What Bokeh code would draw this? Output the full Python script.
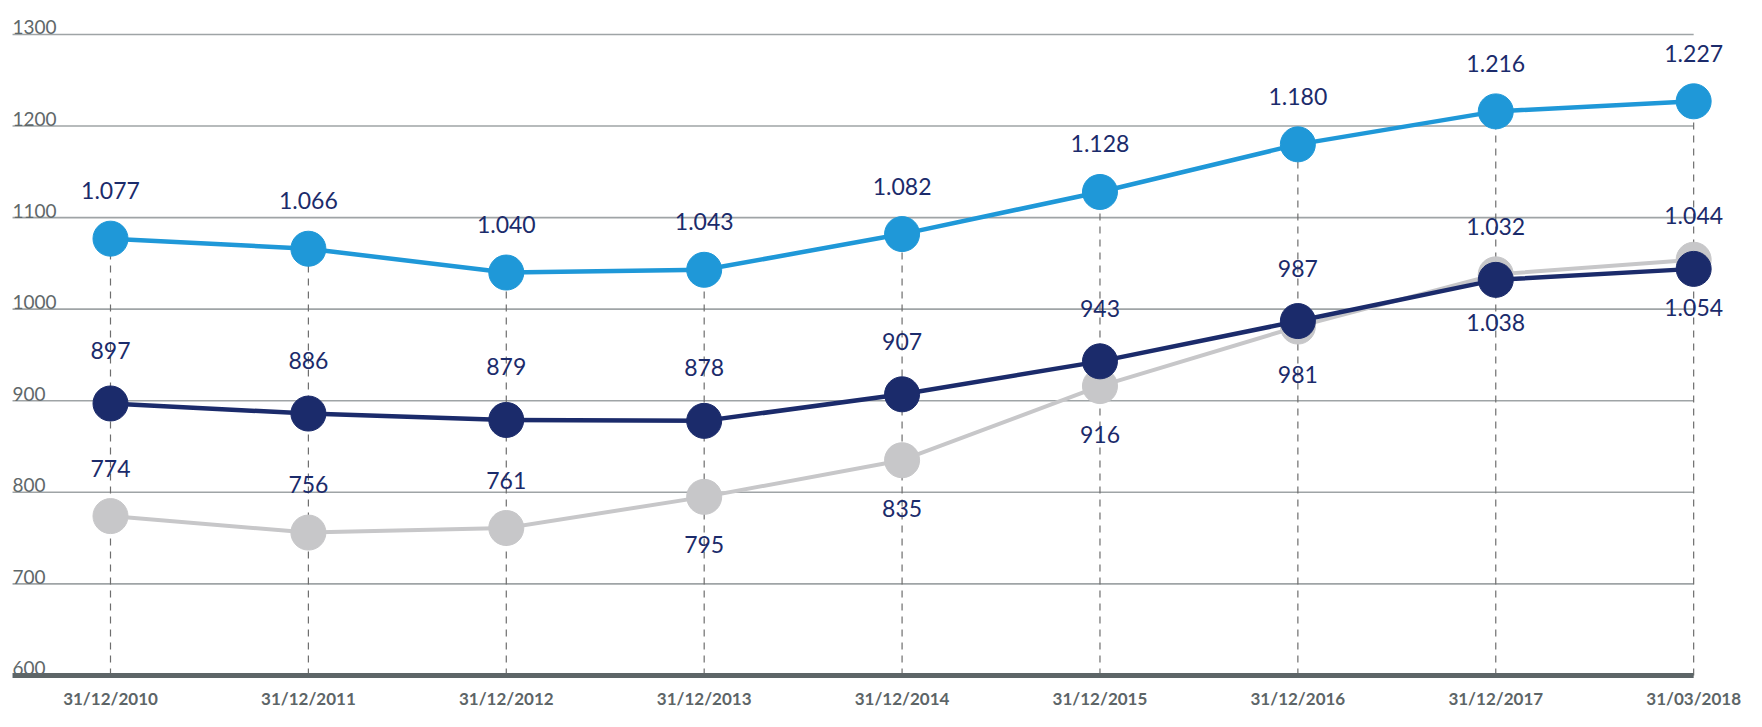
from bokeh.plotting import figure
from bokeh.models import Range1d
from bokeh.core.properties import value
from bokeh.embed import file_html
from bokeh.resources import INLINE

# ---- data ----
dates = ["31/12/2010", "31/12/2011", "31/12/2012", "31/12/2013", "31/12/2014",
         "31/12/2015", "31/12/2016", "31/12/2017", "31/03/2018"]
series_blue = [1077, 1066, 1040, 1043, 1082, 1128, 1180, 1216, 1227]
series_navy = [897, 886, 879, 878, 907, 943, 987, 1032, 1044]
series_grey = [774, 756, 761, 795, 835, 916, 981, 1038, 1054]
y_ticks = [600, 700, 800, 900, 1000, 1100, 1200, 1300]

# ---- styles ----
C_BLUE = "#1f98d8"
C_NAVY = "#1b2b6b"
C_GREY = "#c7c7c9"
C_GRID = "#9fa4a6"
C_BASE = "#5d6567"
C_TICK = "#5f686a"
C_DASH = "#6e6e6e"
FONT = value("Lato")

def fmt(v):
    return f"{v:,}".replace(",", ".")

n = len(dates)
xs = list(range(n))
grid_left = -0.495

p = figure(width=1746, height=711, output_backend="svg", toolbar_location=None,
           x_range=Range1d(-0.5558, 8.267), y_range=Range1d(560.6, 1337.1),
           min_border=0, outline_line_color=None)
p.axis.visible = False
p.grid.visible = False
p.background_fill_color = "white"

# horizontal gridlines
gl = [t for t in y_ticks if t > 600]
p.segment(x0=[grid_left] * len(gl), x1=[n - 1] * len(gl), y0=gl, y1=gl,
          line_color=C_GRID, line_width=1.6)

# vertical dashed lines
p.segment(x0=xs, x1=xs, y0=[600] * n, y1=series_blue,
          line_color=C_DASH, line_width=1.2, line_dash="7 6")

# baseline
p.segment(x0=[grid_left], x1=[n - 1], y0=[600], y1=[600],
          line_color=C_BASE, line_width=5)

# y tick labels
p.text(x=[grid_left] * len(y_ticks), y=y_ticks, text=[str(t) for t in y_ticks],
       text_font=FONT, text_font_size="19px", text_color=C_TICK,
       text_align="left", text_baseline="alphabetic", y_offset=-7)

# x labels
p.text(x=xs, y=[600] * n, text=dates, text_font=FONT, text_font_size="17px",
       text_font_style="bold", text_color=C_BASE, text_align="center",
       text_baseline="middle", y_offset=23)

# series
for ys, col, lw in [(series_grey, C_GREY, 4), (series_navy, C_NAVY, 4.5), (series_blue, C_BLUE, 4.5)]:
    p.line(xs, ys, line_color=col, line_width=lw)
    p.scatter(xs, ys, size=35, marker="circle", fill_color=col, line_color=col)

# value labels
def labels(ys, above_mask, off_above, off_below):
    xa = [x for x, a in zip(xs, above_mask) if a]
    ya = [y for y, a in zip(ys, above_mask) if a]
    xb = [x for x, a in zip(xs, above_mask) if not a]
    yb = [y for y, a in zip(ys, above_mask) if not a]
    common = dict(text_font=FONT, text_font_size="23px", text_color=C_NAVY,
                  text_align="center", text_baseline="middle")
    if xa:
        p.text(x=xa, y=ya, text=[fmt(v) for v in ya], y_offset=off_above, **common)
    if xb:
        p.text(x=xb, y=yb, text=[fmt(v) for v in yb], y_offset=off_below, **common)

labels(series_blue, [True] * n, -48, 0)
labels(series_navy, [True] * n, -53, 0)
grey_above = [i < 3 for i in range(n)]
labels(series_grey, grey_above, -48, 48)

open("out.html", "w").write(file_html(p, INLINE))
